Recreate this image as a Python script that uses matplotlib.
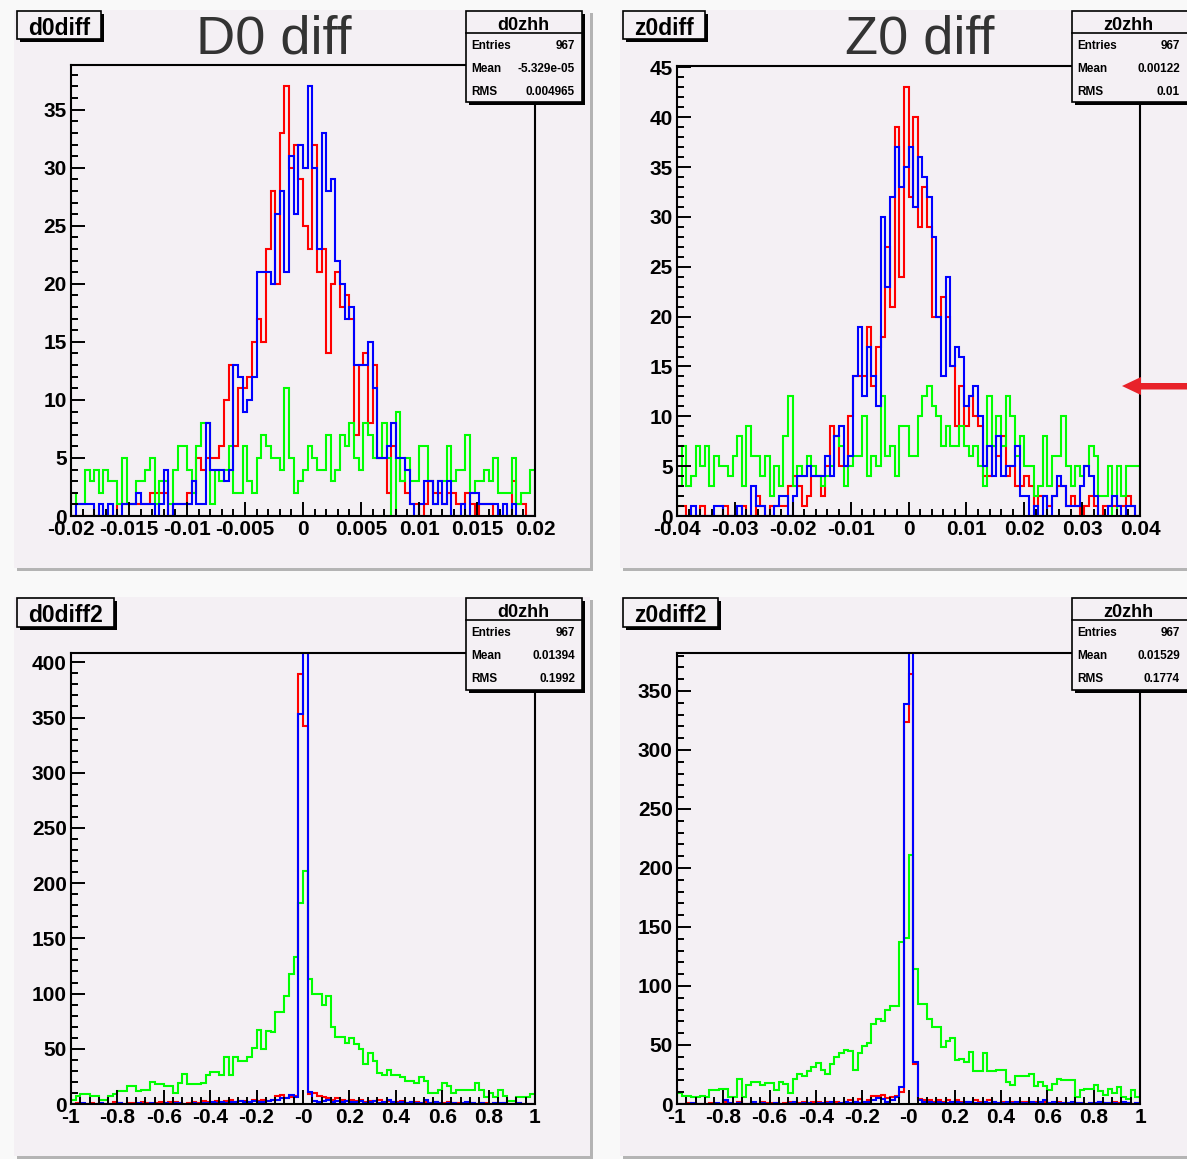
import numpy as np
import matplotlib
matplotlib.use("Agg")
from matplotlib import pyplot as plt
from matplotlib.patches import Rectangle, Polygon
from matplotlib.ticker import MultipleLocator, FixedLocator

W, H = 1187, 1159

# ---- histogram contents (100 bins each) ----
d0_red = [0, 0, 0, 0, 0, 0, 0, 0, 0, 0,
          1, 1, 1, 1, 1, 1, 1, 2, 2, 2,
          2, 0, 1, 1, 1, 2, 2, 5, 4, 5,
          5, 5, 6, 10, 13, 6, 11, 11, 12, 15,
          17, 15, 23, 28, 20, 33, 37, 30, 32, 29,
          25, 23, 32, 21, 23, 14, 20, 21, 18, 19,
          17, 7, 13, 14, 8, 13, 5, 5, 2, 6,
          5, 3, 2, 1, 1, 0, 1, 3, 2, 2,
          1, 2, 2, 1, 1, 2, 1, 0, 1, 1,
          1, 0, 0, 0, 0, 3, 1, 1, 0, 0]
d0_blue = [0, 1, 1, 1, 1, 0, 1, 0, 1, 0,
           0, 1, 1, 1, 2, 1, 1, 1, 0, 1,
           4, 0, 1, 1, 1, 1, 3, 1, 1, 8,
           4, 4, 4, 3, 4, 13, 12, 9, 10, 12,
           21, 21, 21, 20, 26, 28, 21, 31, 26, 32,
           30, 37, 30, 23, 33, 28, 29, 22, 20, 17,
           18, 13, 13, 13, 15, 11, 5, 5, 6, 8,
           5, 5, 4, 1, 0, 1, 3, 3, 1, 3,
           1, 3, 0, 0, 1, 0, 2, 2, 1, 1,
           1, 1, 0, 1, 0, 1, 0, 0, 0, 0]
d0_green = [2, 1, 1, 4, 3, 4, 2, 4, 3, 3,
            1, 5, 1, 1, 3, 3, 4, 5, 1, 3,
            3, 1, 4, 6, 6, 4, 2, 6, 8, 8,
            1, 4, 3, 4, 6, 2, 2, 6, 3, 2,
            5, 7, 6, 5, 5, 4, 11, 5, 2, 3,
            4, 6, 5, 4, 4, 7, 3, 4, 7, 6,
            8, 5, 4, 8, 7, 5, 5, 8, 5, 0,
            9, 3, 5, 3, 3, 6, 6, 3, 1, 3,
            3, 6, 3, 4, 4, 7, 2, 3, 3, 4,
            3, 5, 2, 2, 2, 5, 1, 2, 2, 4]

z0_red = [1, 1, 0, 0, 0, 1, 0, 0, 0, 0,
          1, 0, 0, 0, 1, 0, 0, 2, 1, 0,
          1, 1, 1, 1, 3, 4, 3, 1, 2, 4,
          4, 2, 5, 9, 8, 5, 5, 10, 14, 14,
          14, 19, 13, 17, 18, 27, 21, 39, 24, 43,
          32, 40, 29, 33, 29, 20, 20, 22, 20, 15,
          9, 13, 9, 12, 10, 9, 4, 4, 7, 6,
          8, 4, 5, 3, 3, 4, 3, 1, 2, 2,
          1, 2, 3, 3, 1, 2, 1, 0, 1, 2,
          1, 0, 1, 1, 1, 1, 1, 2, 1, 0]
z0_blue = [0, 0, 0, 1, 0, 0, 0, 0, 1, 1,
           0, 0, 0, 1, 0, 0, 3, 1, 1, 0,
           0, 1, 2, 2, 0, 2, 4, 4, 5, 4,
           4, 4, 6, 4, 8, 9, 5, 6, 14, 19,
           12, 17, 14, 11, 30, 23, 32, 37, 33, 35,
           37, 31, 36, 34, 32, 28, 20, 14, 24, 15,
           17, 16, 11, 12, 13, 10, 5, 7, 4, 8,
           4, 5, 5, 7, 2, 2, 0, 1, 0, 2,
           0, 2, 4, 3, 1, 1, 1, 3, 5, 4,
           2, 0, 0, 1, 2, 1, 0, 1, 1, 0]
z0_green = [3, 7, 3, 4, 7, 5, 7, 3, 6, 5,
            5, 4, 6, 8, 3, 9, 6, 6, 4, 6,
            2, 5, 3, 8, 12, 3, 5, 4, 6, 5,
            4, 3, 4, 5, 8, 7, 3, 5, 6, 6,
            10, 4, 6, 5, 12, 6, 7, 4, 9, 9,
            6, 6, 10, 12, 13, 11, 10, 7, 9, 7,
            7, 9, 7, 6, 7, 5, 3, 12, 7, 10,
            7, 12, 10, 6, 8, 5, 5, 2, 3, 8,
            3, 6, 6, 10, 5, 3, 5, 4, 5, 7,
            6, 2, 2, 5, 0, 5, 2, 5, 5, 5]

d2_red = [0, 1, 0, 0, 1, 0, 1, 0, 0, 2,
          1, 0, 1, 1, 0, 2, 1, 0, 1, 2,
          1, 2, 2, 1, 0, 1, 2, 1, 3, 2,
          2, 3, 2, 3, 4, 2, 3, 3, 2, 4,
          3, 4, 3, 4, 7, 8, 5, 6, 7, 389,
          342, 9, 10, 7, 6, 5, 4, 5, 4, 3,
          4, 3, 4, 2, 3, 3, 4, 2, 3, 2,
          2, 3, 1, 2, 2, 1, 2, 1, 2, 1,
          1, 2, 1, 1, 0, 1, 1, 0, 1, 1,
          0, 1, 0, 1, 0, 0, 1, 0, 0, 0]
d2_blue = [0, 0, 1, 0, 0, 0, 1, 0, 0, 0,
           1, 0, 0, 0, 1, 0, 0, 1, 0, 0,
           1, 0, 1, 1, 0, 0, 1, 0, 1, 1,
           2, 1, 2, 1, 2, 2, 3, 2, 2, 3,
           2, 2, 3, 4, 4, 5, 5, 8, 6, 353,
           450, 11, 3, 2, 3, 4, 2, 3, 2, 3,
           2, 2, 3, 1, 2, 3, 1, 2, 4, 2,
           1, 2, 1, 2, 1, 1, 4, 1, 2, 1,
           0, 1, 1, 0, 1, 2, 1, 0, 1, 0,
           0, 1, 1, 1, 0, 0, 1, 0, 0, 0]
d2_green = [4, 7, 9, 9, 7, 7, 4, 4, 7, 9,
            12, 12, 16, 16, 12, 13, 13, 20, 18, 18,
            16, 16, 10, 19, 27, 18, 18, 18, 19, 26,
            29, 29, 26, 43, 26, 43, 39, 39, 43, 51,
            67, 50, 66, 65, 83, 83, 98, 118, 133, 182,
            211, 113, 100, 100, 90, 98, 70, 61, 61, 55,
            60, 54, 50, 36, 46, 39, 28, 26, 31, 26,
            26, 24, 21, 21, 19, 24, 21, 10, 10, 13,
            19, 16, 10, 13, 13, 13, 13, 19, 13, 6,
            10, 6, 13, 7, 3, 3, 6, 6, 6, 9]

z2_red = [0, 0, 1, 0, 0, 0, 0, 1, 0, 0,
          2, 1, 0, 2, 0, 0, 1, 0, 2, 1,
          1, 1, 0, 1, 2, 0, 1, 2, 1, 2,
          2, 1, 2, 1, 2, 1, 2, 3, 2, 4,
          2, 3, 7, 7, 8, 5, 6, 7, 10, 324,
          364, 34, 4, 3, 3, 2, 3, 2, 3, 2,
          3, 2, 2, 1, 3, 2, 2, 3, 2, 1,
          2, 1, 2, 1, 2, 2, 1, 2, 1, 2,
          1, 1, 2, 1, 1, 0, 1, 1, 0, 1,
          1, 2, 1, 1, 2, 1, 1, 1, 0, 1]
z2_blue = [0, 0, 0, 1, 0, 0, 0, 0, 1, 0,
           3, 1, 0, 1, 0, 0, 2, 0, 1, 0,
           0, 1, 0, 0, 1, 2, 0, 1, 1, 0,
           1, 1, 1, 2, 0, 1, 2, 1, 2, 1,
           2, 2, 3, 5, 4, 2, 3, 6, 14, 339,
           460, 36, 3, 2, 2, 1, 2, 1, 1, 2,
           2, 1, 2, 2, 1, 1, 2, 1, 2, 1,
           1, 2, 1, 2, 1, 1, 2, 1, 2, 3,
           1, 2, 1, 1, 1, 2, 1, 1, 0, 1,
           1, 2, 1, 1, 1, 0, 2, 1, 0, 1]
z2_green = [9, 7, 7, 6, 6, 7, 6, 12, 12, 13,
            13, 6, 6, 21, 6, 16, 19, 19, 16, 18,
            18, 12, 19, 17, 9, 21, 25, 24, 28, 31,
            35, 29, 25, 34, 40, 43, 46, 45, 29, 43,
            49, 52, 68, 72, 70, 80, 83, 83, 137, 141,
            211, 114, 85, 85, 72, 65, 65, 48, 53, 56,
            37, 38, 36, 44, 28, 28, 43, 28, 28, 29,
            29, 19, 16, 24, 24, 24, 25, 15, 19, 15,
            12, 17, 21, 20, 20, 20, 6, 12, 13, 13,
            16, 11, 8, 13, 9, 14, 6, 4, 12, 6]

# ---- tick labels and texts ----
d0_ticks = [-0.02, -0.015, -0.01, -0.005, 0, 0.005, 0.01, 0.015, 0.02]
d0_labels = ["-0.02", "-0.015", "-0.01", "-0.005", "0", "0.005", "0.01", "0.015", "0.02"]
z0_ticks = [-0.04, -0.03, -0.02, -0.01, 0, 0.01, 0.02, 0.03, 0.04]
z0_labels = ["-0.04", "-0.03", "-0.02", "-0.01", "0", "0.01", "0.02", "0.03", "0.04"]
wide_ticks = [-1, -0.8, -0.6, -0.4, -0.2, 0, 0.2, 0.4, 0.6, 0.8, 1]
wide_labels = ["-1", "-0.8", "-0.6", "-0.4", "-0.2", "-0", "0.2", "0.4", "0.6", "0.8", "1"]

stat_names = ["Entries", "Mean", "RMS"]
d0_stats = ["967", "-5.329e-05", "0.004965"]
z0_stats = ["967", "0.00122", "0.01"]
d2_stats = ["967", "0.01394", "0.1992"]
z2_stats = ["967", "0.01529", "0.1774"]

plt.rcParams["font.family"] = ["Liberation Sans", "DejaVu Sans"]

PAD = "#f4f0f4"
fig = plt.figure(figsize=(W / 100, H / 100), dpi=100)
fig.patch.set_facecolor("#f9f9f9")


def fx(x):
    return x / W


def fy(y):
    return 1 - y / H


def rect(x0, y0, x1, y1, **kw):
    r = Rectangle((fx(x0), fy(y1)), (x1 - x0) / W, (y1 - y0) / H,
                  transform=fig.transFigure, **kw)
    fig.add_artist(r)
    return r


def ftext(x, y, s, **kw):
    fig.text(fx(x), fy(y), s, **kw)


def panel(x0, y0, x1, y1, lo, hi, red, blue, green, ticks, labels, xminor, ymajor, yminor):
    ax = fig.add_axes([fx(x0), fy(y1), (x1 - x0) / W, (y1 - y0) / H])
    ax.set_facecolor("none")
    edges = np.linspace(lo, hi, len(red) + 1)
    ax.stairs(red, edges, color="#ff0000", lw=1.5, baseline=0)
    ax.stairs(green, edges, color="#00ff00", lw=1.5, baseline=0)
    ax.stairs(blue, edges, color="#0000ff", lw=1.5, baseline=0)
    ax.set_xlim(lo, hi)
    ax.set_ylim(0, 1.05 * max(red))
    ax.xaxis.set_major_locator(FixedLocator(ticks))
    ax.set_xticklabels(labels)
    ax.xaxis.set_minor_locator(MultipleLocator(xminor))
    ax.yaxis.set_major_locator(MultipleLocator(ymajor))
    ax.yaxis.set_minor_locator(MultipleLocator(yminor))
    ax.tick_params(which="both", direction="in", top=False, right=False, width=1.4, color="black")
    ax.tick_params(which="major", length=10, labelsize=15, pad=3)
    ax.tick_params(which="minor", length=5)
    for lab in ax.get_xticklabels() + ax.get_yticklabels():
        lab.set_fontweight("bold")
    for sp in ax.spines.values():
        sp.set_linewidth(1.5)
    return ax


def name_box(x0, y0, x1, y1, base, s):
    rect(x0 + 3, y0 + 3, x1 + 3, y1 + 3, facecolor="black", edgecolor="none", zorder=5)
    rect(x0, y0, x1, y1, facecolor=PAD, edgecolor="black", lw=1.2, zorder=6)
    ftext((x0 + x1) / 2, base, s, ha="center", va="baseline", fontsize=16.5,
          fontweight="bold", zorder=7)


def stats_box(x0, y0, x1, y1, title, values, lx, rx, cx):
    rect(x0 + 3, y0 + 3, x1 + 3, y1 + 3, facecolor="black", edgecolor="none", zorder=5)
    rect(x0, y0, x1, y1, facecolor=PAD, edgecolor="black", lw=1.2, zorder=6)
    fig.add_artist(plt.Line2D([fx(x0), fx(x1)], [fy(y0 + 22), fy(y0 + 22)],
                              transform=fig.transFigure, color="black", lw=1.2, zorder=7))
    ftext(cx, y0 + 19, title, ha="center", va="baseline", fontsize=13,
          fontweight="bold", zorder=7)
    for i, (n, v) in enumerate(zip(stat_names, values)):
        yb = y0 + 38 + 23 * i
        ftext(lx, yb, n, ha="left", va="baseline", fontsize=8.5, fontweight="bold", zorder=7)
        ftext(rx, yb, v, ha="right", va="baseline", fontsize=8.5, fontweight="bold", zorder=7)


# pads with their grey shadow
for (x0, y0, x1, y1) in [(14, 10, 590, 568), (620, 10, 1195, 568),
                         (14, 597, 590, 1156), (620, 597, 1195, 1156)]:
    rect(x0 + 3, y0 + 3, x1 + 3, y1 + 3, facecolor="#b4b4b4", edgecolor="none", zorder=-3)
    rect(x0, y0, x1, y1, facecolor=PAD, edgecolor="none", zorder=-2)

panel(71, 65, 535, 516, -0.02, 0.02, d0_red, d0_blue, d0_green,
      d0_ticks, d0_labels, 0.001, 5, 1)
panel(677, 66, 1140, 516, -0.04, 0.04, z0_red, z0_blue, z0_green,
      z0_ticks, z0_labels, 0.002, 5, 1)
panel(71, 653, 535, 1104, -1, 1, d2_red, d2_blue, d2_green,
      wide_ticks, wide_labels, 0.04, 50, 10)
panel(677, 653, 1140, 1104, -1, 1, z2_red, z2_blue, z2_green,
      wide_ticks, wide_labels, 0.04, 50, 10)

name_box(17, 11, 101, 39, 35, "d0diff")
name_box(623, 11, 705, 39, 35, "z0diff")
name_box(17, 598, 114, 627, 622, "d0diff2")
name_box(623, 598, 718, 627, 622, "z0diff2")

ftext(274, 54, "D0 diff", ha="center", va="baseline", fontsize=39, color="#333333", zorder=7)
ftext(920, 54, "Z0 diff", ha="center", va="baseline", fontsize=39, color="#333333", zorder=7)

stats_box(466, 11, 582, 102, "d0zhh", d0_stats, 471, 575, 523)
stats_box(1072, 11, 1200, 102, "z0zhh", z0_stats, 1077, 1180, 1128)
stats_box(466, 598, 582, 690, "d0zhh", d2_stats, 471, 575, 523)
stats_box(1072, 598, 1200, 690, "z0zhh", z2_stats, 1077, 1180, 1128)

# red arrow pointing at the z0diff panel
arrow = [(1122, 386), (1141, 377), (1141, 383), (1192, 383),
         (1192, 389.5), (1141, 389.5), (1141, 395)]
fig.add_artist(Polygon([(fx(x), fy(y)) for x, y in arrow], closed=True,
                       transform=fig.transFigure, facecolor="#e8232a",
                       edgecolor="none", zorder=8))

fig.savefig("out.png", dpi=100, facecolor=fig.get_facecolor())
